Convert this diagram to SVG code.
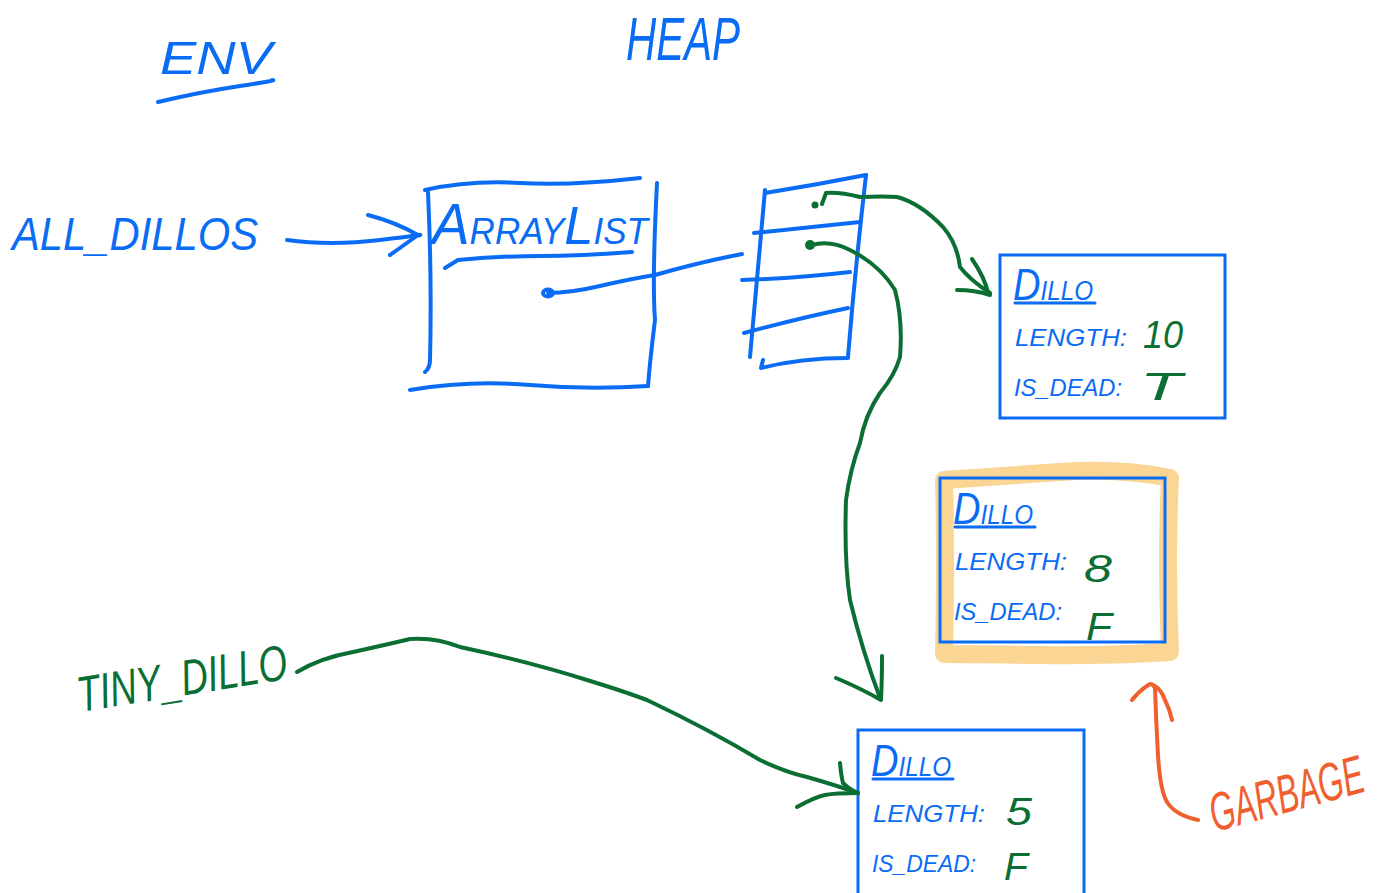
<svg xmlns="http://www.w3.org/2000/svg" width="1400" height="893" viewBox="0 0 1400 893">
<style>
.bl{fill:none;stroke:#0a6cf5;stroke-width:4;stroke-linecap:round;stroke-linejoin:round}
.box{fill:none;stroke:#0a6cf5;stroke-width:3}
.gr{fill:none;stroke:#0b6e33;stroke-width:4;stroke-linecap:round;stroke-linejoin:round}
.or{fill:none;stroke:#f0602f;stroke-width:4;stroke-linecap:round;stroke-linejoin:round}
.hl{fill:none;stroke:#fbd593;stroke-width:18;stroke-linecap:round;stroke-linejoin:round}
.tb{font-family:"Liberation Sans",Arial,sans-serif;font-style:italic;fill:#0a6cf5}
.tg{font-family:"Liberation Sans",Arial,sans-serif;font-style:italic;fill:#0b6e33}
.to{font-family:"Liberation Sans",Arial,sans-serif;font-style:italic;fill:#f0602f}
.lbl{font-size:24px}
.val{font-size:38px}
</style>
<rect width="1400" height="893" fill="#ffffff"/>

<g id="env">
<text class="tb" x="160" y="74" font-size="46" textLength="112" lengthAdjust="spacingAndGlyphs">ENV</text>
<path class="bl" d="M158 102 Q200 92 240 86 T272 80"/>
</g>

<g id="heap">
<text class="tb" x="626" y="60" font-size="62" textLength="114" lengthAdjust="spacingAndGlyphs">HEAP</text>
</g>

<g id="all_dillos">
<text class="tb" x="12" y="250" font-size="46" textLength="246" lengthAdjust="spacingAndGlyphs">ALL_DILLOS</text>
</g>

<g id="arraylist">
<path class="bl" d="M425 190 Q470 180 520 183 T640 178"/>
<path class="bl" d="M428 192 Q432 280 430 360 Q430 368 425 372"/>
<path class="bl" d="M657 183 Q652 280 655 320 Q650 360 648 386"/>
<path class="bl" d="M410 390 Q470 380 530 385 T648 386"/>
<text class="tb" x="432" y="244" textLength="216" lengthAdjust="spacingAndGlyphs"><tspan font-size="58">A</tspan><tspan font-size="36">RRAY</tspan><tspan font-size="54">L</tspan><tspan font-size="36">IST</tspan></text>
<path class="bl" d="M445 268 L458 260 Q500 256 540 256 T632 252"/>
<ellipse cx="548" cy="293" rx="5" ry="3.5" class="bl"/>
</g>

<g id="array">
<path class="bl" d="M765 193 Q815 185 866 175"/>
<path class="bl" d="M765 190 Q758 270 750 357"/>
<path class="bl" d="M866 175 Q855 270 848 357"/>
<path class="bl" d="M754 233 Q800 228 860 222"/>
<path class="bl" d="M742 280 Q800 278 850 272"/>
<path class="bl" d="M744 333 Q800 318 848 308"/>
<path class="bl" d="M763 360 L761 368 Q800 358 848 358"/>
</g>

<g id="dillo1">
<rect class="box" x="1000" y="255" width="225" height="163"/>
<text class="tb" x="1013" y="300" textLength="80" lengthAdjust="spacingAndGlyphs"><tspan font-size="44">D</tspan><tspan font-size="28">ILLO</tspan></text>
<path class="bl" d="M1015 303 L1095 303" style="stroke-width:3"/>
<text class="tb lbl" x="1015" y="346" textLength="112" lengthAdjust="spacingAndGlyphs">LENGTH:</text>
<text class="tg val" x="1143" y="348" textLength="40" lengthAdjust="spacingAndGlyphs">10</text>
<text class="tb lbl" x="1014" y="396" textLength="108" lengthAdjust="spacingAndGlyphs">IS_DEAD:</text>
<text class="tg val" x="1140" y="400" textLength="42" lengthAdjust="spacingAndGlyphs">T</text>
</g>

<g id="dillo2">
<path class="hl" d="M944 480 Q1000 476 1060 472 T1170 478 Q1166 560 1170 652 Q1100 656 1040 655 T944 654 Q946 560 944 480 Z"/>
<rect class="box" x="940" y="478" width="225" height="164"/>
<text class="tb" x="953" y="524" textLength="80" lengthAdjust="spacingAndGlyphs"><tspan font-size="44">D</tspan><tspan font-size="28">ILLO</tspan></text>
<path class="bl" d="M955 527 L1035 527" style="stroke-width:3"/>
<text class="tb lbl" x="955" y="570" textLength="112" lengthAdjust="spacingAndGlyphs">LENGTH:</text>
<text class="tg val" x="1084" y="582" font-size="50" textLength="28" lengthAdjust="spacingAndGlyphs">8</text>
<text class="tb lbl" x="954" y="620" textLength="108" lengthAdjust="spacingAndGlyphs">IS_DEAD:</text>
<text class="tg val" x="1086" y="640" textLength="26" lengthAdjust="spacingAndGlyphs">F</text>
</g>

<g id="dillo3">
<rect class="box" x="858" y="730" width="226" height="170"/>
<text class="tb" x="871" y="776" textLength="80" lengthAdjust="spacingAndGlyphs"><tspan font-size="44">D</tspan><tspan font-size="28">ILLO</tspan></text>
<path class="bl" d="M873 779 L953 779" style="stroke-width:3"/>
<text class="tb lbl" x="873" y="822" textLength="112" lengthAdjust="spacingAndGlyphs">LENGTH:</text>
<text class="tg val" x="1006" y="825" textLength="26" lengthAdjust="spacingAndGlyphs">5</text>
<text class="tb lbl" x="872" y="872" textLength="104" lengthAdjust="spacingAndGlyphs">IS_DEAD:</text>
<text class="tg val" x="1004" y="880" textLength="24" lengthAdjust="spacingAndGlyphs">F</text>
</g>

<g id="tiny_dillo">
<text class="tg" transform="translate(80 712) rotate(-9)" font-size="50" textLength="212" lengthAdjust="spacingAndGlyphs">TINY_DILLO</text>
</g>

<g id="garbage">
<text class="to" transform="translate(1215 832) rotate(-15)" font-size="54" textLength="158" lengthAdjust="spacingAndGlyphs">GARBAGE</text>
</g>

<g id="connectors">
<path class="bl" d="M287 240 Q330 246 380 240 T418 235"/>
<path class="bl" d="M368 215 Q395 222 418 235 Q400 248 390 255"/>
<path class="bl" d="M548 293 Q570 293 600 286 T655 275 Q700 262 742 254"/>
<circle cx="815" cy="205" r="3.5" fill="#0b6e33"/>
<path class="gr" d="M822 204 L826 193 Q840 192 860 197 Q885 196 897 197 Q920 203 943 227 Q957 243 960 267 Q970 280 990 293"/>
<path class="gr" d="M957 290 Q975 290 990 295 M972 259 Q985 278 988 293"/>
<circle cx="810" cy="245" r="5" fill="#0b6e33"/>
<path class="gr" d="M812 245 Q830 240 850 250 Q880 265 895 290 Q903 320 900 357 Q895 375 880 393 Q865 415 860 443 Q850 470 846 500 Q844 560 850 600 Q862 650 880 698"/>
<path class="gr" d="M836 678 Q860 688 881 700 Q882 680 882 656"/>
<path class="gr" d="M297 672 Q320 658 353 652 Q385 645 410 639 Q435 637 460 647 Q530 662 587 680 Q620 690 647 700 Q710 730 760 760 Q785 772 807 777 Q835 785 858 793"/>
<path class="gr" d="M797 807 Q815 797 825 795 T858 793 M840 763 Q841 775 843 783 Q850 790 858 793"/>
<path class="or" d="M1198 820 Q1175 815 1167 802 Q1160 790 1158 755 Q1156 720 1155 688 Q1153 684 1150 684 Q1140 690 1132 700 M1150 684 Q1160 686 1165 700 Q1170 710 1172 720"/>
</g>
</svg>
